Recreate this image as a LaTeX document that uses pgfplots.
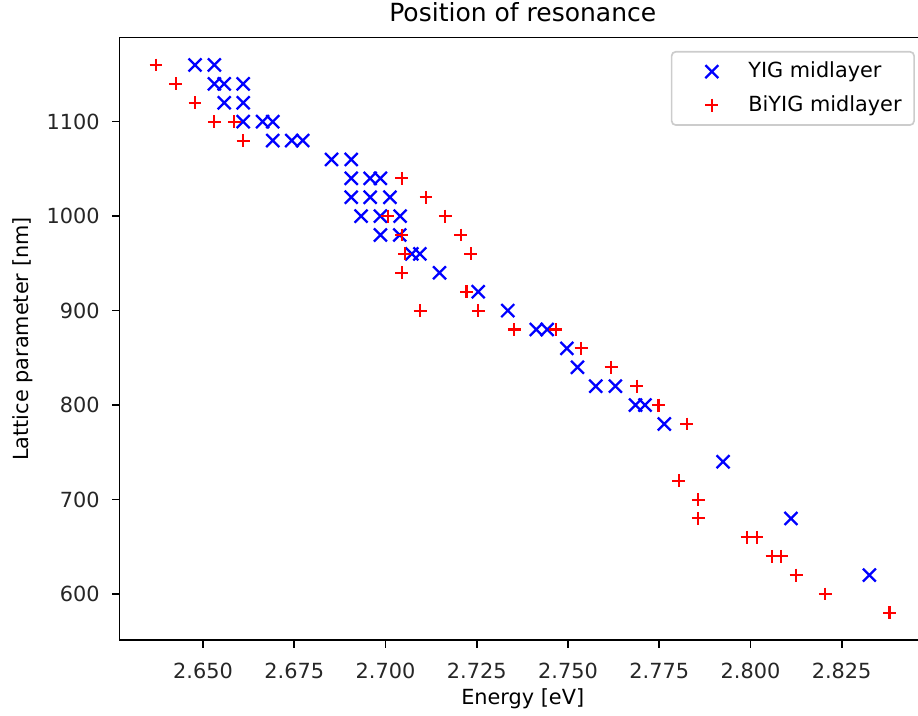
\documentclass[border=0pt]{standalone}
\usepackage{pgfplots}
\pgfplotsset{compat=1.18}
\usepackage{fontspec}
\setmainfont{DejaVu Sans}
\begin{document}
\begin{tikzpicture}
\begin{axis}[
  at={(0,0)}, anchor=south west,
  scale only axis,
  width=387.1pt, height=289.3pt,
  xmin=2.6271, xmax=2.8481, ymin=551, ymax=1189,
  axis line style={line width=0.8pt, black},
  xtick={2.650,2.675,2.700,2.725,2.750,2.775,2.800,2.825},
  ytick={600,700,800,900,1000,1100},
  scaled ticks=false,
  tick pos=left, tick align=outside, major tick length=3.5pt,
  tick style={line width=0.8pt, black},
  /pgf/number format/assume math mode=true,
  xticklabel style={/pgf/number format/fixed, /pgf/number format/fixed zerofill, /pgf/number format/precision=3,
    anchor=base, inner sep=0pt, yshift=-14.9pt, font=\fontsize{10}{12}\selectfont, text=black!85},
  yticklabel style={/pgf/number format/1000 sep={}, anchor=east, inner sep=0pt, xshift=-5.86pt,
    font=\fontsize{10}{12}\selectfont, text=black!85},
  title={Position of resonance},
  title style={at={(axis description cs:0.5,1)}, anchor=base, yshift=1.6pt, font=\fontsize{12}{14}\selectfont},
  xlabel={Energy [eV]},
  xlabel style={at={(axis description cs:0.5,0)}, anchor=base, yshift=-30.6pt, font=\fontsize{10}{12}\selectfont},
  ylabel={Lattice parameter [nm]},
  ylabel style={at={(axis description cs:-0.1129,0.5)}, anchor=base, font=\fontsize{10}{12}\selectfont},
  legend image code/.code={\path[draw=none,fill=none] (-5.3pt,0pt) -- (20pt,0pt); \draw[#1] plot coordinates {(10pt,0pt)};},
  legend style={at={(axis description cs:1,1)}, anchor=north east, xshift=-5.3pt, yshift=-6.4pt,
    draw=black!20, line width=0.8pt, rounded corners=2pt, fill=white,
    inner xsep=4pt, inner ysep=3pt, row sep=3pt,
    font=\fontsize{10}{12}\selectfont,
    nodes={inner sep=2pt, text depth=0.15em},
    /tikz/every odd column/.append style={column sep=5.5pt}},
  legend cell align=left,
]
\addplot[only marks, mark=x, mark size=4.4pt, blue, line width=1.1pt, mark options={line width=1.1pt}] table {
x y
2.6478 1160
2.6531 1160
2.6531 1140
2.6558 1140
2.6610 1140
2.6558 1120
2.6610 1120
2.6610 1100
2.6663 1100
2.6691 1100
2.6691 1080
2.6743 1080
2.6773 1080
2.6852 1060
2.6906 1060
2.6906 1040
2.6958 1040
2.6986 1040
2.6906 1020
2.6958 1020
2.7012 1020
2.6933 1000
2.6986 1000
2.7040 1000
2.6986 980
2.7039 980
2.7072 960
2.7094 960
2.7148 940
2.7254 920
2.7335 900
2.7413 880
2.7443 880
2.7497 860
2.7526 840
2.7576 820
2.7630 820
2.7685 800
2.7711 800
2.7764 780
2.7925 740
2.8111 680
2.8326 620
};
\addlegendentry{YIG midlayer}
\addplot[only marks, mark=+, mark size=3.1pt, red, line width=1pt, mark options={line width=1pt}] table {
x y
2.6371 1160
2.6425 1140
2.6478 1120
2.6531 1100
2.6586 1100
2.6610 1080
2.7044 1040
2.7111 1020
2.7006 1000
2.7164 1000
2.7044 980
2.7206 980
2.7053 960
2.7233 960
2.7044 940
2.7222 920
2.7095 900
2.7254 900
2.7353 880
2.7467 880
2.7536 860
2.7618 840
2.7688 820
2.7748 800
2.7826 780
2.7803 720
2.7857 700
2.7857 680
2.7991 660
2.8018 660
2.8059 640
2.8084 640
2.8125 620
2.8205 600
2.8381 580
};
\addlegendentry{BiYIG midlayer}
\end{axis}
\pgfresetboundingbox
\path[use as bounding box] (-57.36pt,-35.86pt) rectangle (383.28pt,307.34pt);
\end{tikzpicture}
\end{document}
